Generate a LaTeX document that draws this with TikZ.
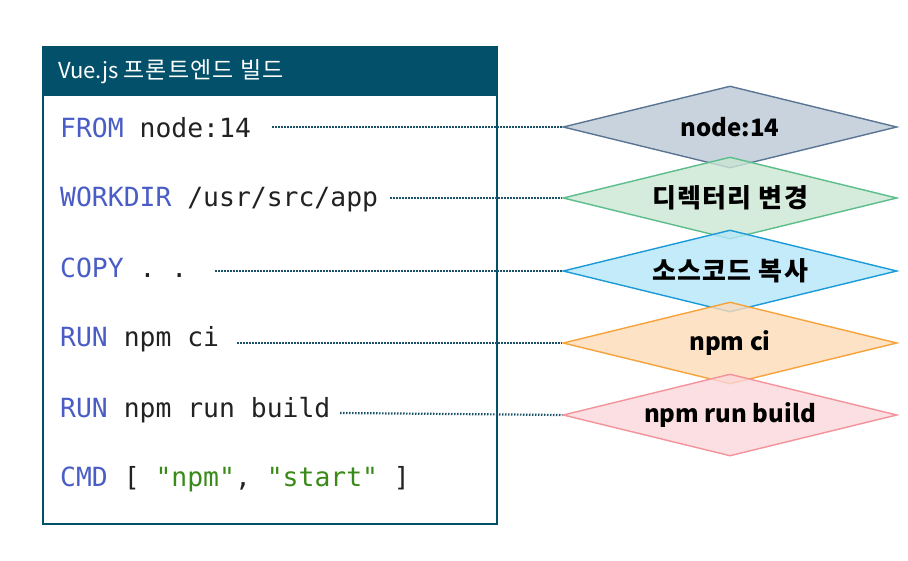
\documentclass[tikz,border=0pt]{standalone}
\usepackage{fontspec}
\setmonofont{DejaVu Sans Mono}
\newfontfamily\kr{Noto Sans CJK KR}
\newfontfamily\krw[LetterSpace=5]{Noto Sans CJK KR}
\usetikzlibrary{shapes.geometric}
\definecolor{hdr}{HTML}{03506A}
\definecolor{kwc}{HTML}{4A5DC6}
\definecolor{txc}{HTML}{222222}
\definecolor{strc}{HTML}{3A8A1A}
\definecolor{dotc}{HTML}{1B5468}
\definecolor{grayF}{HTML}{BCC8D6}\definecolor{grayD}{HTML}{5A7594}
\definecolor{greenF}{HTML}{CBE6D4}\definecolor{greenD}{HTML}{5BBE8A}
\definecolor{blueF}{HTML}{B6E6F9}\definecolor{blueD}{HTML}{1A9AD6}
\definecolor{orangeF}{HTML}{FDDBB8}\definecolor{orangeD}{HTML}{F5A33A}
\definecolor{pinkF}{HTML}{FBD7DB}\definecolor{pinkD}{HTML}{F3939A}
\newcommand{\kwd}[1]{\textcolor{kwc}{#1}}
\newcommand{\strg}[1]{\textcolor{strc}{#1}}
\newcommand{\hg}[1]{{\krw\bfseries\fontsize{26}{28}\selectfont #1}}
\begin{document}
\begin{tikzpicture}[x=1pt,y=-1pt,
  code/.style={anchor=base west,inner sep=0,text=txc,font=\ttfamily\fontsize{26.4}{30}\selectfont},
  dia/.style={shape=diamond,aspect=4.07,minimum width=334pt,minimum height=82pt,inner sep=0,
    line width=1.4pt,fill opacity=0.8,text opacity=1,text=black,font=\kr\bfseries\fontsize{24}{28}\selectfont},
  conn/.style={draw=dotc,line width=2.2pt,dash pattern=on 1.5pt off 1.5pt}]
\useasboundingbox (0,0) rectangle (908,560);
\fill[white] (0,0) rectangle (908,560);
% box
\fill[hdr] (43,47) rectangle (497,96);
\draw[hdr,line width=2.4pt] (43,47) rectangle (497,524);
\node[anchor=west,inner sep=0,text=white,font=\kr\fontsize{22}{24}\selectfont] (title) at (58,72) {Vue.js {\krw\fontsize{23}{24}\selectfont 프론트엔드 빌드}};
% code lines
\node[code] (l1) at (60,137) {\kwd{FROM} node:14};
\node[code] (l2) at (60,206) {\kwd{WORKDIR} /usr/src/app};
\node[code] (l3) at (60,277) {\kwd{COPY} . .};
\node[code] (l4) at (60,346) {\kwd{RUN} npm ci};
\node[code] (l5) at (60,417) {\kwd{RUN} npm run build};
\node[code] (l6) at (60,486) {\kwd{CMD} [ \strg{"npm"}, \strg{"start"} ]};
% diamonds
\node[dia,fill=grayF,draw=grayD] (d1) at (730,127) {node:14};
\node[dia,fill=greenF,draw=greenD] (d2) at (730,198) {\hg{디렉터리 변경}};
\node[dia,fill=blueF,draw=blueD] (d3) at (730,271) {\hg{소스코드 복사}};
\node[dia,fill=orangeF,draw=orangeD] (d4) at (730,343) {npm ci};
\node[dia,fill=pinkF,draw=pinkD] (d5) at (730,415) {npm run build};
% connectors
\coordinate (c1) at (272,127);
\coordinate (c2) at (390,198);
\coordinate (c3) at (215,271);
\coordinate (c4) at (237,343);
\coordinate (c5) at (340,413);
\draw[conn] (c1) -- (d1.west);
\draw[conn] (c2) -- (d2.west);
\draw[conn] (c3) -- (d3.west);
\draw[conn] (c4) -- (d4.west);
\draw[conn] (c5) -- (d5.west);
\end{tikzpicture}
\end{document}
